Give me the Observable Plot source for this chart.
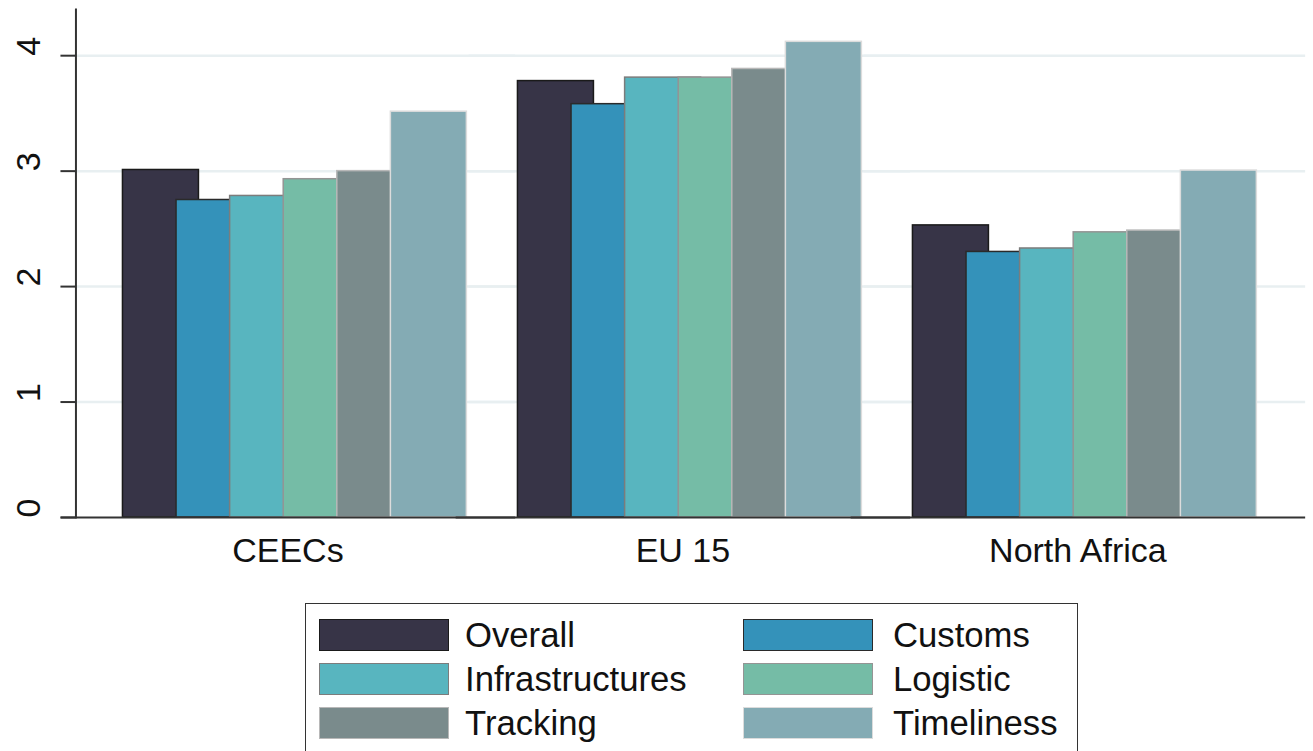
<!DOCTYPE html>
<html>
<head>
<meta charset="utf-8">
<script src="https://cdn.jsdelivr.net/npm/d3@7"></script>
<script src="https://cdn.jsdelivr.net/npm/@observablehq/plot@0.6"></script>
<style>
  body { margin: 0; background: #fff; font-family: "Liberation Sans", Arial, sans-serif; }
  #wrap { position: relative; width: 1313px; height: 751px; overflow: hidden; }
  #legend {
    position: absolute; left: 305px; top: 603px; width: 773px; height: 170px;
    box-sizing: border-box; border: 1.5px solid #333; background: #fff;
    display: grid; grid-template-columns: 130px 262px 130px auto;
    grid-auto-rows: 32px; column-gap: 16px; row-gap: 12px;
    padding: 15px 0 0 13px;
  }
  #legend .sw { box-sizing: border-box; border: 1.5px solid #333; }
  #legend .lb { font-size: 34.7px; line-height: 32px; color: #111; white-space: nowrap; }
  #legend .lb.r { margin-left: 4px; }
</style>
</head>
<body>
<div id="wrap">
  <div id="chart"></div>
  <div id="legend"></div>
</div>
<script>
// ---- data ----
const groups = ["CEECs", "EU 15", "North Africa"];
const series = ["Overall", "Customs", "Infrastructures", "Logistic", "Tracking", "Timeliness"];
const ceecs       = [3.01, 2.75, 2.785, 2.93, 3.00, 3.515];
const eu15        = [3.78, 3.58, 3.81, 3.81, 3.885, 4.12];
const northAfrica = [2.53, 2.30, 2.33, 2.47, 2.485, 3.005];
const yTicks = [0, 1, 2, 3, 4];
const gridTicks = [1, 2, 3, 4];

// ---- styles ----
const fills   = ["#373447", "#3492ba", "#58b5bf", "#75bca6", "#7a8b8c", "#84abb4"];
const strokes = ["#1a1a1a", "#2a2a2a", "#7c7c7c", "#949494", "#b8b8b8", "#dcdcdc"];

const rows = [];
[ceecs, eu15, northAfrica].forEach((vals, gi) =>
  vals.forEach((v, si) => rows.push({
    group: groups[gi], series: series[si], value: v, fill: fills[si], stroke: strokes[si]
  }))
);

const facetShift = -58.2;

const chart = Plot.plot({
  width: 1313,
  height: 590,
  marginLeft: 75,
  marginRight: 8,
  marginTop: 9,
  marginBottom: 73,
  style: { fontFamily: "Liberation Sans, Arial, sans-serif", color: "#222", background: "white" },
  fx: { domain: groups, paddingInner: 0.186, paddingOuter: 0.15, align: 0.495, round: false, label: null },
  x: { domain: series, padding: 0, round: false, axis: null },
  y: { domain: [0, 4.4] },
  color: { type: "identity" },
  marks: [
    Plot.ruleY(gridTicks, { stroke: "#e8eff1", strokeWidth: 2.5, insetLeft: -60, insetRight: -60 }),
    Plot.barY(rows, {
      fx: "group", x: "series", y: "value",
      fill: "fill", stroke: "stroke", strokeWidth: 1.5,
      insetLeft: -11.2, insetRight: -11.2
    }),
    Plot.ruleY([0], { stroke: "#333", strokeWidth: 2, insetLeft: -73, insetRight: -60 }),
    Plot.frame({ anchor: "left", facetAnchor: "left", dx: facetShift, stroke: "#333", strokeWidth: 2 }),
    Plot.axisY(yTicks, {
      anchor: "left", tickSize: 15, tickPadding: 21, tickRotate: -90, tickFormat: d3.format("d"),
      textAnchor: "start", lineAnchor: "bottom", fontSize: 34, dx: facetShift,
      stroke: "#333", strokeWidth: 2, fill: "#111", label: null
    }),
    Plot.axisFx({
      anchor: "bottom", tickSize: 0, tickPadding: 20, lineAnchor: "top",
      fontSize: 34, fill: "#111", label: null, dx: -7
    })
  ]
});
document.getElementById("chart").appendChild(chart);

// ---- legend ----
const legend = d3.select("#legend");
series.forEach((s, i) => {
  legend.append("div").attr("class", "sw")
    .style("background", fills[i]).style("border-color", strokes[i]);
  legend.append("div").attr("class", i % 2 ? "lb r" : "lb").text(s);
});
</script>
</body>
</html>
